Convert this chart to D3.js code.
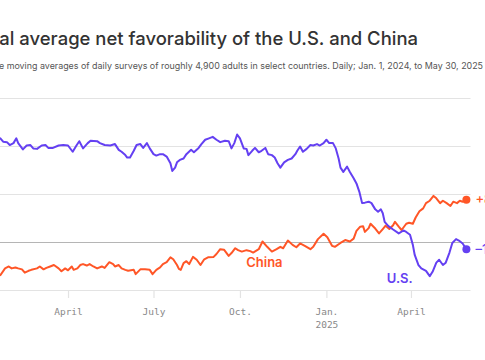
<!DOCTYPE html>
<html><head><meta charset="utf-8">
<script src="https://cdn.jsdelivr.net/npm/d3@7"></script>
<style>body{margin:0;background:#fff} svg{display:block}</style>
</head><body><svg id="c" width="485" height="360"></svg>
<script>
const titleText = "Global average net favorability of the U.S. and China";
const titleVisible = "al average net favorability of the U.S. and China";
const subtitleText = "e moving averages of daily surveys of roughly 4,900 adults in select countries. Daily; Jan. 1, 2024, to May 30, 2025";
const startDate = "2024-01-01";
const endDate = "2025-05-30";

// Days since Jan. 1, 2024
const usDay = [0,5,10,15,19,22,26,29,33,36,
  38,43,47,51,54,58,63,67,70,75,
  81,86,91,96,100,103,107,112,115,122,
  125,130,136,141,145,148,152,154,157,161,
  164,168,171,175,178,182,185,189,192,196,
  200,202,205,207,210,214,217,222,225,230,
  233,237,241,245,249,253,258,262,265,268,
  271,274,278,281,283,287,290,294,297,301,
  304,308,311,314,317,321,325,329,333,335,
  338,341,345,349,352,356,359,363,366,369,
  373,376,379,381,384,388,391,395,398,401,
  404,407,411,414,418,421,424,426,428,432,
  437,443,448,451,455,458,460,464,467,472,
  476,479,483,486,490,493,497,500,504,507,
  511,515];
const usValue = [20.8,21.6,20.5,21.2,21.6,20.9,20.8,20.2,20.6,21.6,
  20.6,19.3,20.1,20.2,19.5,19.4,20.1,20.2,19.6,19.6,
  20.1,20.2,20.1,18.8,20.1,21.0,19.5,20.6,21.1,21.0,
  20.6,20.2,20.1,20.4,19.2,18.8,18.1,17.6,17.6,19.0,
  20.2,20.4,19.6,20.6,19.5,18.3,18.0,18.3,18.3,17.8,
  16.4,14.8,15.5,16.6,17.1,17.4,18.3,19.2,18.7,19.6,
  20.4,21.3,21.6,21.9,21.3,20.8,21.1,21.0,19.5,20.6,
  22.4,21.6,19.5,19.4,18.1,19.0,19.6,18.7,19.0,19.6,
  18.3,18.1,17.6,16.4,15.5,16.6,17.1,17.4,18.3,19.0,
  19.9,18.8,19.4,20.2,20.1,20.4,20.1,20.6,21.3,20.6,
  20.6,19.5,17.4,15.5,14.6,15.7,14.6,13.3,12.2,10.5,
  8.1,8.2,8.4,8.1,6.8,6.3,6.8,6.0,4.2,3.3,
  2.6,1.8,2.4,2.1,1.5,-0.6,-2.7,-4.8,-5.5,-6.0,
  -7.1,-6.2,-4.3,-3.7,-4.8,-4.3,-2.2,-0.2,0.6,0.3,
  -0.3,-1.5];

const chinaDay = [0,6,12,19,24,28,31,35,38,42,
  45,49,52,58,61,65,68,72,76,81,
  84,88,91,95,97,101,104,107,111,114,
  118,122,127,130,135,139,141,145,148,152,
  155,161,163,168,173,178,181,185,189,192,
  196,200,203,207,209,211,214,217,220,224,
  228,232,236,240,246,249,253,257,262,265,
  269,272,276,281,285,288,294,298,303,308,
  313,317,320,325,330,334,338,343,349,352,
  357,363,367,372,375,381,386,391,395,398,
  402,405,407,411,413,418,422,426,429,433,
  437,439,443,446,451,454,458,461,465,469,
  472,476,480,483,487,490,494,498,501,505,
  508,511,515];
const chinaValue = [-6.0,-5.4,-6.2,-6.9,-5.5,-5.1,-5.5,-5.3,-5.5,-5.7,
  -6.4,-6.0,-5.8,-5.5,-5.1,-5.7,-5.4,-5.1,-4.8,-5.5,
  -6.1,-5.5,-5.9,-5.1,-5.8,-5.5,-4.8,-4.6,-4.9,-4.6,
  -5.1,-5.5,-5.1,-5.4,-4.2,-4.6,-5.1,-4.8,-5.5,-5.8,
  -6.0,-5.8,-6.7,-5.7,-5.7,-5.8,-6.7,-5.8,-5.3,-4.6,
  -4.2,-3.2,-3.6,-4.8,-5.6,-5.8,-4.4,-4.0,-4.6,-3.1,
  -3.7,-4.8,-3.6,-3.2,-3.1,-2.5,-1.5,-1.6,-2.9,-2.3,
  -1.3,-1.7,-2.0,-1.7,-1.9,-2.2,-1.5,0.1,-1.0,-2.0,
  -1.5,-1.0,-1.3,0.3,-0.6,-1.1,-0.3,-0.8,-1.5,-1.0,
  0.6,1.7,1.0,-0.8,-1.0,-0.2,0.4,0.1,0.7,2.3,
  3.2,3.3,2.1,2.9,3.8,2.8,1.8,2.7,3.4,2.7,
  3.5,4.2,3.2,2.5,3.8,4.0,3.8,5.1,6.4,7.0,
  8.1,8.6,9.6,9.1,8.1,8.6,8.1,7.5,8.4,8.1,
  8.6,8.4,8.8];

const yTicks = [-10, 0, 10, 20, 30];
const xTickDates = ["2024-04-01","2024-07-01","2024-10-01","2025-01-01","2025-04-01"];
const xTickLabels = ["April","July","Oct.","Jan.","April"];
const xTickYears = ["","","","2025",""];
const seriesNames = ["U.S.","China"];
const endLabels = ["\u20131.5","+8.8"];
const seriesColors = ["#6440f2","#ff5627"];

const parse = d3.utcParse("%Y-%m-%d");
const t0 = parse(startDate);
const toDate = d => d3.utcDay.offset(t0, d);

const svg = d3.select("#c");
const x = d3.scaleUtc().domain([t0, parse(endDate)]).range([-17.5, 466.4]);
const y = d3.scaleLinear().domain([-10, 30]).range([290, 98]);

const sans = "Inter, 'Noto Sans', sans-serif";
const mono = "'DejaVu Sans Mono', 'Liberation Mono', monospace";

// title: the part from "al" to "China" spans the top line up to x 418
const probe = svg.append("text").attr("font-family", sans).attr("font-size", 20)
  .attr("font-weight", 500).text(titleVisible);
const titleSize = 20 * 419 / probe.node().getComputedTextLength();
probe.remove();
svg.append("text").attr("x", 418).attr("y", 45).attr("text-anchor", "end")
  .attr("font-family", sans).attr("font-size", titleSize)
  .attr("font-weight", 500).attr("fill", "#333").text(titleText);

const probe2 = svg.append("text").attr("font-family", sans).attr("font-size", 10).text(subtitleText);
const subSize = 10 * 485 / probe2.node().getComputedTextLength();
probe2.remove();
svg.append("text").attr("x", 483).attr("y", 69).attr("text-anchor", "end")
  .attr("font-family", sans).attr("font-size", subSize)
  .attr("fill", "#555").text(subtitleText);

// grid
const grid = svg.append("g").attr("transform", "translate(470.5,0)")
  .call(d3.axisLeft(y).tickValues(yTicks).tickSize(520).tickFormat(""));
grid.select(".domain").remove();
grid.selectAll(".tick line").attr("stroke", d => d === 0 ? "#b5b5b5" : "#e3e3e3").attr("stroke-width", 1.2);

// x axis
const xa = svg.append("g").attr("transform", "translate(0,290)")
  .call(d3.axisBottom(x).tickValues(xTickDates.map(parse)).tickSize(8).tickFormat((d, i) => xTickLabels[i]));
xa.select(".domain").remove();
xa.selectAll(".tick line").attr("stroke", "#e3e3e3").attr("stroke-width", 1.2);
xa.selectAll(".tick text").attr("y", 25).attr("dy", 0)
  .attr("font-family", mono).attr("font-size", 9.5).attr("fill", "#888");
xa.selectAll(".tick").each(function(d, i) {
  if (xTickYears[i]) {
    d3.select(this).append("text").attr("y", 38).attr("fill", "#888")
      .attr("text-anchor", "middle").attr("font-family", mono)
      .attr("font-size", 9.5).text(xTickYears[i]);
  }
});

const line = d3.line().x(d => x(d.date)).y(d => y(d.v));
const series = [
  usDay.map((d, i) => ({date: toDate(d), v: usValue[i]})),
  chinaDay.map((d, i) => ({date: toDate(d), v: chinaValue[i]}))
];

[1, 0].forEach(k => {
  svg.append("path").datum(series[k]).attr("fill", "none")
    .attr("stroke", seriesColors[k]).attr("stroke-width", 2)
    .attr("stroke-linejoin", "round").attr("d", line);
});

series.forEach((s, k) => {
  const last = s[s.length - 1];
  svg.append("circle").attr("cx", x(last.date)).attr("cy", y(last.v)).attr("r", 4)
    .attr("fill", seriesColors[k]);
  svg.append("text").attr("x", x(last.date) + 9).attr("y", y(last.v) + 4.5)
    .attr("font-family", sans).attr("font-size", 13)
    .attr("font-weight", 500).attr("fill", seriesColors[k]).text(endLabels[k]);
});

// series labels
svg.append("text").attr("x", x(toDate(300))).attr("y", 266.5).attr("text-anchor", "middle")
  .attr("font-family", sans).attr("font-size", 13)
  .attr("font-weight", 600).attr("fill", seriesColors[1]).text(seriesNames[1]);
svg.append("text").attr("x", x(toDate(444))).attr("y", 282.5).attr("text-anchor", "middle")
  .attr("font-family", sans).attr("font-size", 13)
  .attr("font-weight", 600).attr("fill", seriesColors[0]).text(seriesNames[0]);
</script></body></html>
